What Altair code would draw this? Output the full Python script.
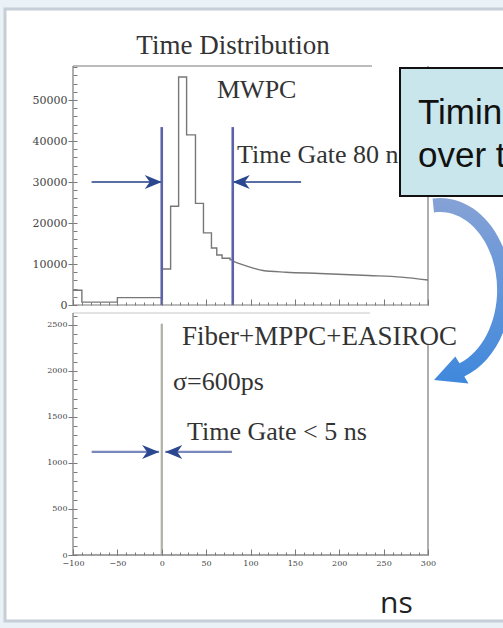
import altair as alt
import pandas as pd

# ---------------- data ----------------
# upper panel: MWPC time distribution (step histogram + smooth tail)
top_edges = [-100, -90, -50, 0, 10, 19, 28, 38, 47, 56, 62, 68, 77, 80]
top_counts = [3600, 700, 1800, 8800, 24100, 55600, 41500, 24800, 17600, 13900, 12200, 11400, 11000]
tail_ns = [80, 90, 103, 114, 140, 178, 233, 270, 300]
tail_counts = [10700, 9900, 9000, 8400, 8000, 7700, 7200, 6800, 6100]
top_gates = [0, 80]
top_gate_height = 43400
top_arrow_from = [-79, 157]
top_arrow_to = [0, 80]
top_arrow_level = 30000

# lower panel: Fiber+MPPC+EASIROC
bot_lo = [-100, -0.6, 0.6]
bot_hi = [-0.6, 0.6, 300]
bot_counts = [0, 2510, 0]
bot_arrow_from = [-79, 79]
bot_arrow_to = [-3, 4]
bot_arrow_level = 1120

top_y_ticks = [0, 10000, 20000, 30000, 40000, 50000]
bot_y_ticks = [0, 500, 1000, 1500, 2000, 2500]
x_ticks = [-100, -50, 0, 50, 100, 150, 200, 250, 300]
x_minor = list(range(-100, 301, 10))
top_y_minor = list(range(0, 58001, 2000))
bot_y_minor = list(range(0, 2601, 100))

# ---------------- layout ----------------
W, H = 355, 489
TOP_H = 239
BOT_TOP = 247

X = alt.Scale(domain=[-100, 300], nice=False, zero=False)
Y_TOP = alt.Scale(domain=[0, 58300], range=[TOP_H, 0], nice=False, zero=False)
Y_BOT = alt.Scale(domain=[0, 2630], range=[H, BOT_TOP], nice=False, zero=False)

SERIF = "Liberation Serif"
one = pd.DataFrame({"a": [0]})


def ax(orient, values, offset=0, size=4, labels=False, fs=8, pad=2):
    kw = dict(orient=orient, values=values, offset=offset, domain=False, grid=False,
              title=None, labels=labels, tickColor="#7a7a7a", tickWidth=1, zindex=1)
    if size > 0:
        kw.update(ticks=True, tickSize=size)
    else:
        kw.update(ticks=False)
    if labels:
        kw.update(labelFont="DejaVu Serif", labelFontSize=fs, labelColor="#444444",
                  labelPadding=pad, labelFlush=False, labelOverlap=False, format="d")
    return alt.Axis(**kw)


def seg(x1, y1, x2, y2, color="#7a7a7a", w=1.2):
    return alt.Chart(one).mark_rule(color=color, strokeWidth=w).encode(
        x=alt.value(x1), x2=alt.value(x2), y=alt.value(y1), y2=alt.value(y2))


def label(txt, x, y, size, font=SERIF, color="#333333", align="left"):
    return alt.Chart(one).mark_text(text=txt, align=align, baseline="alphabetic", font=font,
                                    fontSize=size, color=color).encode(
        x=alt.value(x), y=alt.value(y))


head_r = "M 0,0 L -17,-7 L -12,0 L -17,7 Z"
head_l = "M 0,0 L 17,-7 L 12,0 L 17,7 Z"

# ---------------- frame / background ----------------
panel = alt.Chart(one).mark_rect(fill="#ffffff", stroke="#c6ced8", strokeWidth=3).encode(
    x=alt.value(-68), x2=alt.value(470), y=alt.value(-57), y2=alt.value(555))

frames = [
    seg(0, 0, 299, 0), seg(0, 0, 0, TOP_H), seg(355, 0, 355, TOP_H), seg(0, TOP_H, 355, TOP_H),
    seg(0, BOT_TOP, 297, BOT_TOP, "#c8c8c8", 1), seg(0, BOT_TOP, 0, H), seg(355, 279, 355, H),
    seg(0, H, 355, H),
]

# ---------------- upper panel ----------------
top_df = pd.DataFrame({"t": top_edges, "n": top_counts + [top_counts[-1]]})
tail_df = pd.DataFrame({"t": tail_ns, "n": tail_counts})
gate_df = pd.DataFrame({"t": top_gates, "n": [top_gate_height] * len(top_gates)})
tarrow_df = pd.DataFrame({"t0": top_arrow_from, "t1": top_arrow_to,
                          "n": [top_arrow_level] * 2, "d": ["r", "l"]})

top_hist = alt.Chart(top_df).mark_line(interpolate="step-after", color="#777777", strokeWidth=1.4).encode(
    x=alt.X("t:Q", scale=X, axis=ax("bottom", x_minor, offset=-(H - TOP_H) - 3, size=3)),
    y=alt.Y("n:Q", scale=Y_TOP, axis=ax("left", top_y_ticks, size=5, labels=True, fs=11, pad=1)),
)
top_tail = alt.Chart(tail_df).mark_line(interpolate="monotone", color="#777777", strokeWidth=1.4).encode(
    x=alt.X("t:Q", scale=X, axis=ax("bottom", x_ticks, offset=-(H - TOP_H) - 6, size=6)),
    y=alt.Y("n:Q", scale=Y_TOP, axis=ax("left", top_y_minor, offset=-4, size=4)),
)
top_gate = alt.Chart(gate_df).mark_rule(color="#5b62a8", strokeWidth=2.6).encode(
    x=alt.X("t:Q", scale=X, axis=None),
    y=alt.Y("n:Q", scale=Y_TOP, axis=None), y2=alt.datum(0),
)
top_shaft = alt.Chart(tarrow_df).mark_rule(color="#5a6ea6", strokeWidth=2.2).encode(
    x=alt.X("t0:Q", scale=X, axis=None), x2="t1:Q",
    y=alt.Y("n:Q", scale=Y_TOP, axis=None),
)
top_head_r = alt.Chart(tarrow_df).transform_filter("datum.d == 'r'").mark_point(
    shape=head_r, size=4, filled=True, color="#2b4790", opacity=1, strokeWidth=0).encode(
    x=alt.X("t1:Q", scale=X, axis=None), y=alt.Y("n:Q", scale=Y_TOP, axis=None))
top_head_l = alt.Chart(tarrow_df).transform_filter("datum.d == 'l'").mark_point(
    shape=head_l, size=4, filled=True, color="#2b4790", opacity=1, strokeWidth=0).encode(
    x=alt.X("t1:Q", scale=X, axis=None), y=alt.Y("n:Q", scale=Y_TOP, axis=None))

# ---------------- lower panel ----------------
bot_df = pd.DataFrame({"lo": bot_lo, "hi": bot_hi, "n": bot_counts})
barrow_df = pd.DataFrame({"t0": bot_arrow_from, "t1": bot_arrow_to,
                          "n": [bot_arrow_level] * 2, "d": ["r", "l"]})

bot_hist = alt.Chart(bot_df).mark_rect(fill="#dfe38a", fillOpacity=0.7, stroke="#9a9a9a", strokeWidth=0.9).encode(
    x=alt.X("lo:Q", scale=X, axis=ax("bottom", x_ticks, size=0, labels=True, fs=8, pad=4)),
    x2="hi:Q",
    y=alt.Y("n:Q", scale=Y_BOT, axis=ax("left", bot_y_ticks, size=5, labels=True, fs=8, pad=1)),
    y2=alt.datum(0),
)
bot_minor = alt.Chart(bot_df).mark_rule(opacity=0).encode(
    x=alt.X("lo:Q", scale=X, axis=ax("bottom", x_minor, offset=-3, size=3)),
    y=alt.Y("n:Q", scale=Y_BOT, axis=ax("left", bot_y_minor, offset=-4, size=4)),
)
bot_major = alt.Chart(bot_df).mark_rule(opacity=0).encode(
    x=alt.X("hi:Q", scale=X, axis=ax("bottom", x_ticks, offset=-6, size=6)),
    y=alt.Y("n:Q", scale=Y_BOT, axis=None),
)
bot_shaft = alt.Chart(barrow_df).mark_rule(color="#7888bb", strokeWidth=2.2).encode(
    x=alt.X("t0:Q", scale=X, axis=None), x2="t1:Q",
    y=alt.Y("n:Q", scale=Y_BOT, axis=None),
)
bot_head_r = alt.Chart(barrow_df).transform_filter("datum.d == 'r'").mark_point(
    shape=head_r, size=4, filled=True, color="#2b4790", opacity=1, strokeWidth=0).encode(
    x=alt.X("t1:Q", scale=X, axis=None), y=alt.Y("n:Q", scale=Y_BOT, axis=None))
bot_head_l = alt.Chart(barrow_df).transform_filter("datum.d == 'l'").mark_point(
    shape=head_l, size=4, filled=True, color="#2b4790", opacity=1, strokeWidth=0).encode(
    x=alt.X("t1:Q", scale=X, axis=None), y=alt.Y("n:Q", scale=Y_BOT, axis=None))

# ---------------- annotations ----------------
texts = [
    label("Time Distribution", 160, -12, 27, align="center"),
    label("MWPC", 144, 32, 26),
    label("Time Gate 80 ns", 164, 97, 26),
    label("Fiber+MPPC+EASIROC", 109, 279, 27),
    label("σ=600ps", 100, 324, 26),
    label("Time Gate < 5 ns", 114, 374, 26),
    label("ns", 307, 547, 30, font="Open Sans", color="#222222"),
]

arc_path = ("M -7.4,-91.5 A 71,92 0 0 1 24.3,86.5 L 28.5,93.4 L -6,90 L 15.3,66.4 "
            "L 19.5,73.3 A 57,78 0 0 0 -6,-77.6 Z")
grad = alt.LinearGradient(gradient="linear", x1=0, x2=0, y1=0, y2=1,
                          stops=[alt.GradientStop(color="#86a2d6", offset=0),
                                 alt.GradientStop(color="#3f88dc", offset=1)])
curved = alt.Chart(one).mark_point(shape=arc_path, size=4, filled=True, fill=grad,
                                   opacity=1, strokeWidth=0).encode(
    x=alt.value(367), y=alt.value(224))

callout = alt.Chart(one).mark_rect(fill="#c8e6eb", stroke="#111111", strokeWidth=2).encode(
    x=alt.value(327), x2=alt.value(450), y=alt.value(2), y2=alt.value(130))
call_txt = [
    label("Timing", 345, 58, 35, font="Liberation Sans", color="#111111"),
    label("over the", 345, 101, 35, font="Liberation Sans", color="#111111"),
]

layers = ([panel] + frames +
          [top_hist, top_tail, top_gate, top_shaft, top_head_r, top_head_l,
           bot_hist, bot_minor, bot_major, bot_shaft, bot_head_r, bot_head_l] +
          texts + [curved, callout] + call_txt)

chart = alt.layer(*layers).resolve_scale(y="independent").resolve_axis(
    x="independent", y="independent"
).properties(
    width=W, height=H,
    padding={"left": 73, "top": 66, "right": 75, "bottom": 73},
    autosize=alt.AutoSizeParams(type="none"),
    background="#eaf2f7",
).configure_view(strokeWidth=0)

chart.save("out.html", embed_options={"renderer": "svg", "actions": False})
